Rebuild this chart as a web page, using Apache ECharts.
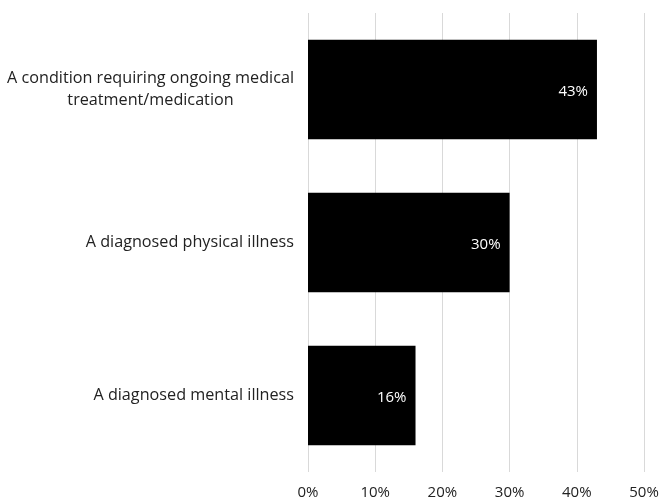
<!DOCTYPE html>
<html>
<head>
<meta charset="utf-8">
<script src="https://cdn.jsdelivr.net/npm/echarts@6/dist/echarts.min.js"></script>
<style>
  html, body { margin: 0; padding: 0; background: #fff; }
  #chart { width: 662px; height: 500px; }
</style>
</head>
<body>
<div id="chart"></div>
<script>
// Conditions, listed top to bottom
const categories = [
  'A condition requiring ongoing medical\ntreatment/medication',
  'A diagnosed physical illness',
  'A diagnosed mental illness'
];
// Share of respondents, percent
const values = [43, 30, 16];
// Axis range and step
const axisMin = 0;
const axisMax = 50;
const axisStep = 10;

const fontFamily = '"Open Sans", "Noto Sans", sans-serif';
const catFontSize = 16.2;
const tickFontSize = 15;

// Width of the longest line of a label, so wrapped lines can be centred on each other
const measureCtx = document.createElement('canvas').getContext('2d');
measureCtx.font = catFontSize + 'px ' + fontFamily;
function blockWidth(text) {
  return Math.ceil(Math.max(...text.split('\n').map(s => measureCtx.measureText(s).width)));
}

const chart = echarts.init(document.getElementById('chart'), null, { renderer: 'canvas' });
chart.setOption({
  animation: false,
  grid: { left: 308, right: 18, top: 13, bottom: 27, containLabel: false },
  xAxis: {
    type: 'value',
    min: axisMin,
    max: axisMax,
    interval: axisStep,
    axisLine: { show: false },
    axisTick: { show: false },
    splitLine: { show: true, lineStyle: { color: '#d9d9d9', width: 1 } },
    axisLabel: {
      formatter: v => v + '%',
      color: '#222',
      fontSize: tickFontSize,
      fontFamily,
      margin: 13
    }
  },
  yAxis: {
    type: 'category',
    inverse: true,
    data: categories,
    axisLine: { show: false },
    axisTick: { show: false },
    axisLabel: {
      color: '#222',
      fontSize: catFontSize,
      fontFamily,
      margin: 14,
      align: 'right',
      lineHeight: 22,
      formatter: function (v) {
        if (v.indexOf('\n') < 0) return v;
        return v.split('\n').map(s => '{c|' + s + '}').join('\n');
      },
      rich: {
        c: {
          width: blockWidth(categories[0]),
          align: 'center',
          color: '#222',
          fontSize: catFontSize,
          fontFamily,
          lineHeight: 22
        }
      }
    }
  },
  series: [{
    type: 'bar',
    data: values,
    barCategoryGap: '35%',
    itemStyle: { color: '#000' },
    label: {
      show: true,
      position: 'insideRight',
      distance: 9,
      offset: [0, 2],
      color: '#fff',
      fontSize: tickFontSize,
      fontFamily,
      formatter: p => p.value + '%'
    }
  }]
});
</script>
</body>
</html>
